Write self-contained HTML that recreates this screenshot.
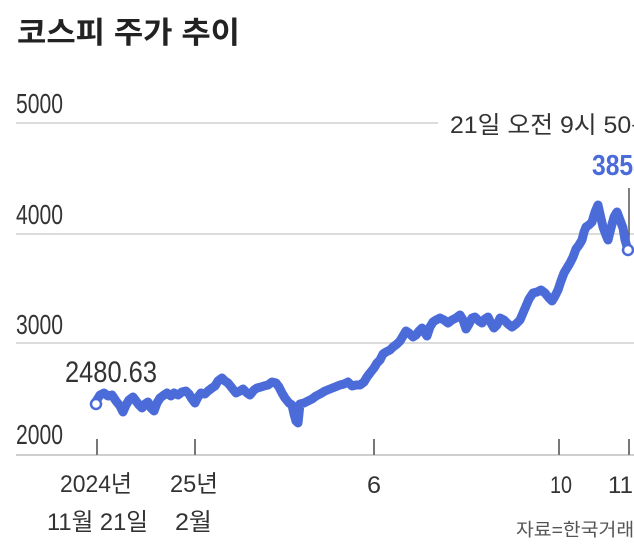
<!DOCTYPE html>
<html>
<head>
<meta charset="utf-8">
<style>
html,body{margin:0;padding:0;background:#fff;}
svg{display:block;}
text{font-family:"Liberation Sans","Noto Sans CJK KR",sans-serif;}
</style>
</head>
<body>
<svg width="634" height="560" viewBox="0 0 634 560" xmlns="http://www.w3.org/2000/svg">
<rect width="634" height="560" fill="#fff"/>
<!-- title -->
<text x="17" y="43" font-size="30" font-weight="bold" fill="#222" textLength="223" lengthAdjust="spacingAndGlyphs">코스피 주가 추이</text>

<!-- grid -->
<line x1="16" y1="123" x2="438" y2="123" stroke="#dcdcdc" stroke-width="2"/>
<line x1="16" y1="234" x2="634" y2="234" stroke="#dcdcdc" stroke-width="2"/>
<line x1="16" y1="343" x2="634" y2="343" stroke="#dcdcdc" stroke-width="2"/>
<line x1="16" y1="455" x2="634" y2="455" stroke="#cfcfcf" stroke-width="2"/>

<!-- y labels -->
<g font-size="28" fill="#333">
<text x="16" y="113" textLength="47" lengthAdjust="spacingAndGlyphs">5000</text>
<text x="16" y="224" textLength="47" lengthAdjust="spacingAndGlyphs">4000</text>
<text x="16" y="334" textLength="47" lengthAdjust="spacingAndGlyphs">3000</text>
<text x="16" y="444" textLength="47" lengthAdjust="spacingAndGlyphs">2000</text>
</g>

<!-- ticks -->
<g stroke="#777" stroke-width="2">
<line x1="97" y1="439" x2="97" y2="455"/>
<line x1="195" y1="439" x2="195" y2="455"/>
<line x1="374" y1="439" x2="374" y2="455"/>
<line x1="559" y1="439" x2="559" y2="455"/>
<line x1="629" y1="439" x2="629" y2="455"/>
</g>

<!-- x labels -->
<g font-size="24" fill="#333">
<text x="60" y="492" textLength="72" lengthAdjust="spacingAndGlyphs">2024년</text>
<text x="47" y="530" textLength="101" lengthAdjust="spacingAndGlyphs">11월 21일</text>
<text x="170" y="492" textLength="48" lengthAdjust="spacingAndGlyphs">25년</text>
<text x="175" y="530" textLength="37" lengthAdjust="spacingAndGlyphs">2월</text>
<text x="367" y="493" textLength="14" lengthAdjust="spacingAndGlyphs">6</text>
<text x="550" y="493" textLength="22" lengthAdjust="spacingAndGlyphs">10</text>
<text x="608" y="493" textLength="47" lengthAdjust="spacingAndGlyphs">11월</text>
</g>

<!-- source -->
<text x="516" y="536" font-size="18" fill="#555" textLength="136" lengthAdjust="spacingAndGlyphs">자료=한국거래소</text>

<!-- annotations -->
<text x="65" y="382" font-size="30" fill="#333" textLength="92" lengthAdjust="spacingAndGlyphs">2480.63</text>
<text x="450" y="133" font-size="24" fill="#333" textLength="204" lengthAdjust="spacingAndGlyphs">21일 오전 9시 50분</text>
<text x="592" y="175" font-size="29" font-weight="bold" fill="#4b6cd8" transform="translate(592 0) scale(0.85 1) translate(-592 0)">3853.87</text>
<line x1="629" y1="188" x2="629" y2="245" stroke="#555" stroke-width="1.5"/>

<!-- series -->
<polyline fill="none" stroke="#4b6cd8" stroke-width="9" stroke-linejoin="round" stroke-linecap="round" points="
95,403 100,395 104,393 108,396 112,395 116,401 120,406 123,412 126,405 129,400 133,397 136,401 139,405 142,408 145,404 148,402 151,408 154,411 157,403 160,398 164,395 167,393 171,396 174,393 178,395 182,392 186,391 189,394 192,399 195,403 198,397 201,393 205,394 208,391 212,388 215,386 218,381 222,378 225,381 228,383 232,388 236,393 240,391 243,389 247,393 250,395 254,390 257,388 261,387 264,386 268,385 272,382 276,383 279,387 282,393 285,398 289,403 292,405 294,414 296,421 298,423 300,404 304,403 308,401 312,399 316,396 320,394 325,391 330,389 335,387 340,385 344,384 348,382 352,386 356,385 360,385 364,382 367,377 370,373 374,368 377,363 380,360 383,354 386,352 390,350 393,347 397,344 400,341 403,336 406,331 409,333 413,337 416,335 419,331 422,328 425,333 427,336 430,327 433,322 436,320 440,318 444,320 448,323 452,320 456,318 460,315 463,320 466,329 469,324 472,318 475,317 479,321 482,323 485,319 488,317 491,323 494,328 497,325 500,318 504,320 508,324 512,327 516,324 520,320 523,313 526,306 529,299 533,293 537,292 541,290 545,293 549,298 552,301 555,296 558,290 561,281 564,273 567,268 570,263 573,257 576,249 579,245 582,240 584,232 586,227 589,225 592,222 595,212 598,205 600,214 603,227 606,235 608,240 611,228 614,217 617,212 620,220 623,228 625,240 628,250"/>

<circle cx="96" cy="404" r="5" fill="#fff" stroke="#4b6cd8" stroke-width="2.5"/>
<circle cx="628" cy="250" r="5" fill="#fff" stroke="#4b6cd8" stroke-width="2.5"/>
</svg>
</body>
</html>
